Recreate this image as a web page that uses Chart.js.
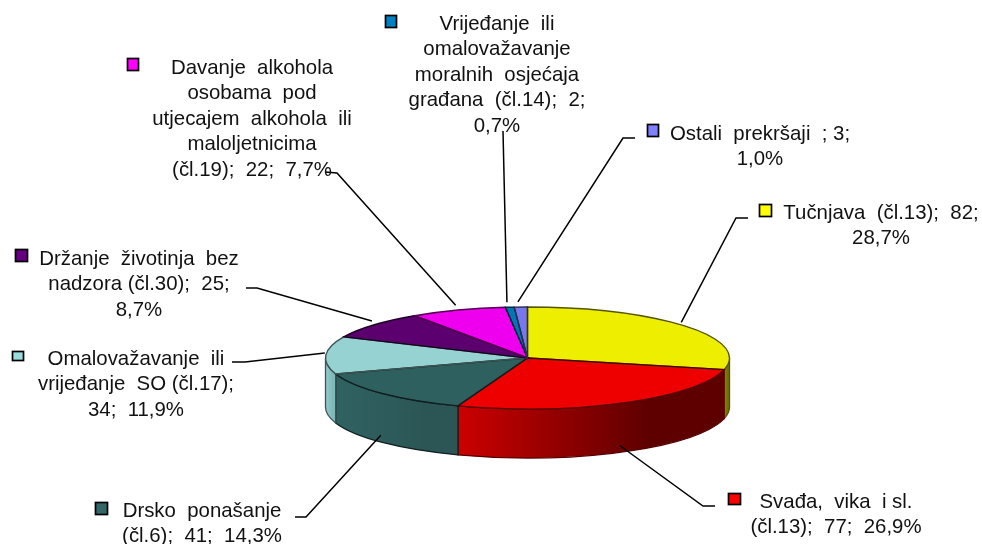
<!DOCTYPE html>
<html>
<head>
<meta charset="utf-8">
<style>
html, body { margin: 0; padding: 0; background: #fff; overflow: hidden; }
canvas { display: block; }
</style>
<script src="https://cdn.jsdelivr.net/npm/chart.js@4/dist/chart.umd.min.js"></script>
</head>
<body>
<canvas id="pie" width="982" height="544"></canvas>
<script>
var categories = ["Tučnjava (čl.13)", "Svađa, vika i sl. (čl.13)", "Drsko ponašanje (čl.6)",
  "Omalovažavanje ili vrijeđanje SO (čl.17)", "Držanje životinja bez nadzora (čl.30)",
  "Davanje alkohola osobama pod utjecajem alkohola ili maloljetnicima (čl.19)",
  "Vrijeđanje ili omalovažavanje moralnih osjećaja građana (čl.14)", "Ostali prekršaji"];
var values = [82, 77, 41, 34, 25, 22, 2, 3];

var faceColors = ["#eeee00", "#ee0000", "#2f6060", "#96d2d2", "#5c0070", "#ee00ee", "#0077b0", "#7777ee"];
var keyColors = ["#ffff00", "#ff0000", "#336666", "#99dddd", "#660080", "#ff00ff", "#0080c0", "#8080ff"];
var edgeColors = ["#555500", "#550000", "#102020", "#3c5454", "#1e0026", "#550055", "#002a40", "#2a2a55"];
var wallLeft = ["#8a8a00", "#cc0000", "#306262", "#93cccc", "#5c0070", "#ee00ee", "#0077b0", "#7777ee"];
var wallRight = ["#6e6e00", "#5e0000", "#2c5656", "#80b8b8", "#5c0070", "#ee00ee", "#0077b0", "#7777ee"];

// label text, wrapped the way the picture wraps it
var labelLines = [
  ["Tučnjava  (čl.13);  82;", "28,7%"],
  ["Svađa,  vika  i sl.", "(čl.13);  77;  26,9%"],
  ["Drsko  ponašanje", "(čl.6);  41;  14,3%"],
  ["Omalovažavanje  ili", "vrijeđanje  SO (čl.17);", "34;  11,9%"],
  ["Držanje  životinja  bez", "nadzora (čl.30);  25;", "8,7%"],
  ["Davanje  alkohola", "osobama  pod", "utjecajem  alkohola  ili", "maloljetnicima", "(čl.19);  22;  7,7%"],
  ["Vrijeđanje  ili", "omalovažavanje", "moralnih  osjećaja", "građana  (čl.14);  2;", "0,7%"],
  ["Ostali  prekršaji  ; 3;", "1,0%"]
];

// where each label sits: text centre, first baseline, key square, leader start
var labelPlace = [
  { x: 881, y: 219, key: [759, 204, 13, 13], lead: [[748, 218], [736, 218]] },
  { x: 836, y: 508, key: [728, 493, 13, 12], lead: [[715, 506], [703, 506]] },
  { x: 202, y: 517, key: [95, 502, 13, 13], lead: [[295, 517], [306, 517]] },
  { x: 136, y: 365, key: [12, 351, 12, 10], lead: [[232, 362], [245, 362]] },
  { x: 139, y: 265, key: [15, 249, 13, 13], lead: [[246, 288], [257, 288]] },
  { x: 252, y: 74, key: [127, 58, 12, 13], lead: [[325, 172], [337, 173]] },
  { x: 497, y: 30, key: [385, 15, 12, 13], lead: [[503, 131]] },
  { x: 760, y: 140, key: [647, 124, 12, 13], lead: [[635, 138], [623, 138]] }
];

var lineStep = 25.4;
var faceRy = 51, depth = 49, faceCy = 358;

function squash(arc) {
  return faceRy / arc.outerRadius;
}

var pie3d = {
  id: "pie3d",
  beforeDatasetsDraw: function (chart) {
    var ctx = chart.ctx, arcs = chart.getDatasetMeta(0).data;
    var cx = arcs[0].x, rx = arcs[0].outerRadius;

    // side walls of the disc, only the part facing the viewer
    arcs.forEach(function (arc, i) {
      var s = Math.max(arc.startAngle, 0), e = Math.min(arc.endAngle, Math.PI);
      if (e <= s) return;
      var g = ctx.createLinearGradient(cx + rx * Math.cos(e), 0, cx + rx * Math.cos(s), 0);
      g.addColorStop(0, wallLeft[i]);
      g.addColorStop(0.72, wallRight[i]);
      g.addColorStop(1, wallRight[i]);
      ctx.beginPath();
      ctx.ellipse(cx, faceCy, rx, faceRy, 0, s, e);
      ctx.ellipse(cx, faceCy + depth, rx, faceRy, 0, e, s, true);
      ctx.closePath();
      ctx.fillStyle = g;
      ctx.fill();
      ctx.strokeStyle = edgeColors[i];
      ctx.lineWidth = 1.3;
      ctx.stroke();
    });

    // the library draws the top face, flattened
    var sy = squash(arcs[0]);
    ctx.save();
    ctx.translate(0, faceCy - arcs[0].y * sy);
    ctx.scale(1, sy);
  },
  afterDatasetsDraw: function (chart) {
    var ctx = chart.ctx, arcs = chart.getDatasetMeta(0).data;
    ctx.restore();
    var cx = arcs[0].x, rx = arcs[0].outerRadius;

    // edges of the top face
    arcs.forEach(function (arc, i) {
      ctx.beginPath();
      ctx.moveTo(cx, faceCy);
      ctx.lineTo(cx + rx * Math.cos(arc.startAngle), faceCy + faceRy * Math.sin(arc.startAngle));
      ctx.ellipse(cx, faceCy, rx, faceRy, 0, arc.startAngle, arc.endAngle);
      ctx.closePath();
      ctx.strokeStyle = edgeColors[i];
      ctx.lineWidth = 1.4;
      ctx.stroke();
    });

    // leaders, ending at the middle of each slice
    ctx.strokeStyle = "#000";
    ctx.lineWidth = 1.5;
    arcs.forEach(function (arc, i) {
      var mid = (arc.startAngle + arc.endAngle) / 2;
      var px = cx + rx * Math.cos(mid) * 0.99 - 3;
      var py = faceCy + faceRy * Math.sin(mid) * 1.06 - 2;
      if (Math.sin(mid) > 0) py += depth * 0.85;
      ctx.beginPath();
      labelPlace[i].lead.forEach(function (p, k) {
        if (k === 0) ctx.moveTo(p[0], p[1]); else ctx.lineTo(p[0], p[1]);
      });
      ctx.lineTo(px, py);
      ctx.stroke();
    });

    // keys and label text
    ctx.font = "20.4px 'Liberation Sans', Arial, sans-serif";
    ctx.textAlign = "center";
    ctx.textBaseline = "alphabetic";
    labelLines.forEach(function (lines, i) {
      var p = labelPlace[i];
      ctx.fillStyle = keyColors[i];
      ctx.fillRect(p.key[0], p.key[1], p.key[2], p.key[3]);
      ctx.strokeStyle = "#000";
      ctx.lineWidth = 1.7;
      ctx.strokeRect(p.key[0] + 0.5, p.key[1] + 0.5, p.key[2] - 1, p.key[3] - 1);
      ctx.fillStyle = "#111";
      lines.forEach(function (t, k) {
        ctx.fillText(t, p.x, p.y + k * lineStep);
      });
    });
  }
};

new Chart(document.getElementById("pie"), {
  type: "pie",
  data: {
    labels: categories,
    datasets: [{
      data: values,
      backgroundColor: faceColors,
      borderWidth: 0
    }]
  },
  options: {
    responsive: false,
    animation: false,
    layout: { padding: { left: 325.5, right: 252.5, top: 70, bottom: 70 } },
    plugins: { legend: { display: false }, tooltip: { enabled: false } }
  },
  plugins: [pie3d]
});
</script>
</body>
</html>
